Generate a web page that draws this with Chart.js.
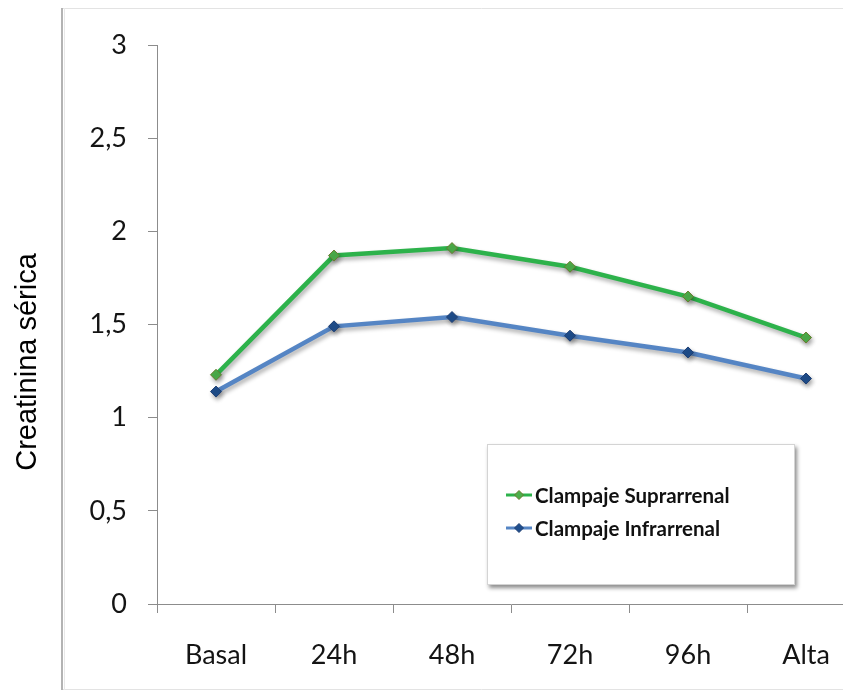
<!DOCTYPE html>
<html><head><meta charset="utf-8">
<script src="https://cdn.jsdelivr.net/npm/chart.js@4"></script>
<style>
html,body{margin:0;padding:0;background:#fff;overflow:hidden}
#wrap{position:relative;width:843px;height:691px;overflow:hidden}
canvas{position:absolute;left:0;top:0}
</style></head><body>
<div id="wrap"><canvas id="c" width="900" height="691"></canvas></div>
<script>
// Serum creatinine by time point, two clamping groups
const categories = ['Basal', '24h', '48h', '72h', '96h', 'Alta'];
const suprarrenal = [1.23, 1.87, 1.91, 1.81, 1.65, 1.43];
const infrarrenal = [1.14, 1.49, 1.54, 1.44, 1.35, 1.21];
const seriesNames = ['Clampaje Suprarrenal', 'Clampaje Infrarrenal'];
const yMin = 0, yMax = 3, yStep = 0.5;
const yTitle = 'Creatinina sérica';

const GREEN = '#2db24b', GREEN_PT = '#4cae4a', GREEN_PT_BORDER = '#6b7a2e';
const BLUE = '#5585c4', BLUE_PT = '#1f4e8c', BLUE_PT_BORDER = '#1f3f73';
const AXIS = '#8c8c8c';
const TEXT = '#141414';
const TICK_FONT = {family: 'Lato', size: 27};

// Outer chart frame (left, top and bottom edges visible)
const framePlugin = {
  id: 'frame',
  beforeDraw(chart) {
    const ctx = chart.ctx;
    ctx.save();
    ctx.fillStyle = '#ffffff';
    ctx.fillRect(0, 0, chart.width, chart.height);
    ctx.lineWidth = 1;
    ctx.strokeStyle = '#e3e3e3';
    ctx.beginPath();
    ctx.moveTo(63, 8.5); ctx.lineTo(chart.width, 8.5);
    ctx.moveTo(63, 689.5); ctx.lineTo(chart.width, 689.5);
    ctx.stroke();
    ctx.lineWidth = 2;
    ctx.strokeStyle = '#b3b3b3';
    ctx.beginPath();
    ctx.moveTo(62, 8); ctx.lineTo(62, 690);
    ctx.stroke();
    ctx.lineWidth = 1;
    ctx.strokeStyle = '#e8e8e8';
    ctx.beginPath();
    ctx.moveTo(64.5, 8); ctx.lineTo(64.5, 690);
    ctx.stroke();
    ctx.restore();
  }
};

// Soft drop shadow under the series lines
const shadowPlugin = {
  id: 'lineShadow',
  beforeDatasetsDraw(chart) {
    const ctx = chart.ctx;
    ctx.save();
    ctx.shadowColor = 'rgba(0,0,0,0.32)';
    ctx.shadowBlur = 4;
    ctx.shadowOffsetX = 1.5;
    ctx.shadowOffsetY = 3;
  },
  afterDatasetsDraw(chart) {
    chart.ctx.restore();
  }
};

// Rotated y-axis title, placed outside the frame
const yTitlePlugin = {
  id: 'yTitle',
  afterDraw(chart) {
    const ctx = chart.ctx;
    ctx.save();
    ctx.translate(28, 362);
    ctx.rotate(-Math.PI / 2);
    ctx.font = '29px "Liberation Sans", Arial, sans-serif';
    ctx.fillStyle = '#000000';
    ctx.textAlign = 'center';
    ctx.textBaseline = 'middle';
    ctx.fillText(yTitle, 0, 0);
    ctx.restore();
  }
};

// Boxed legend inside the plot area
const legendBoxPlugin = {
  id: 'legendBox',
  afterDraw(chart) {
    const ctx = chart.ctx;
    const x = 487, y = 444, w = 308, h = 141;
    ctx.save();
    ctx.shadowColor = 'rgba(0,0,0,0.45)';
    ctx.shadowBlur = 4;
    ctx.shadowOffsetX = 2;
    ctx.shadowOffsetY = 3;
    ctx.fillStyle = '#ffffff';
    ctx.fillRect(x, y, w, h);
    ctx.restore();
    ctx.save();
    ctx.strokeStyle = '#d4d4d4';
    ctx.lineWidth = 1;
    ctx.strokeRect(x + 0.5, y + 0.5, w - 1, h - 1);
    const rows = [495, 528];
    chart.data.datasets.forEach((ds, i) => {
      const ry = rows[i];
      ctx.strokeStyle = ds.borderColor;
      ctx.lineWidth = 3;
      ctx.beginPath();
      ctx.moveTo(506, ry); ctx.lineTo(532, ry);
      ctx.stroke();
      ctx.fillStyle = ds.pointBackgroundColor;
      ctx.strokeStyle = ds.pointBorderColor;
      ctx.lineWidth = 1;
      ctx.beginPath();
      ctx.moveTo(519, ry - 4.5); ctx.lineTo(523.5, ry);
      ctx.lineTo(519, ry + 4.5); ctx.lineTo(514.5, ry);
      ctx.closePath();
      ctx.fill(); ctx.stroke();
      ctx.fillStyle = '#111111';
      ctx.font = 'bold 20.5px Lato, sans-serif';
      ctx.textAlign = 'left';
      ctx.textBaseline = 'middle';
      ctx.fillText(ds.label, 535, ry + 1);
    });
    ctx.restore();
  }
};

new Chart(document.getElementById('c'), {
  type: 'line',
  data: {
    labels: categories,
    datasets: [
      {
        label: seriesNames[0],
        data: suprarrenal,
        borderColor: GREEN,
        borderWidth: 4.5,
        pointStyle: 'rectRot',
        pointRadius: 5.5,
        pointBackgroundColor: GREEN_PT,
        pointBorderColor: GREEN_PT_BORDER,
        pointBorderWidth: 1,
        tension: 0
      },
      {
        label: seriesNames[1],
        data: infrarrenal,
        borderColor: BLUE,
        borderWidth: 4.5,
        pointStyle: 'rectRot',
        pointRadius: 5.5,
        pointBackgroundColor: BLUE_PT,
        pointBorderColor: BLUE_PT_BORDER,
        pointBorderWidth: 1,
        tension: 0
      }
    ]
  },
  options: {
    responsive: false,
    animation: false,
    devicePixelRatio: 1,
    layout: {padding: {left: 0, top: 45, right: 35, bottom: 0}},
    plugins: {legend: {display: false}, tooltip: {enabled: false}},
    scales: {
      x: {
        type: 'category',
        offset: true,
        grid: {offset: true, drawOnChartArea: false, drawTicks: true, tickLength: 9, color: AXIS},
        border: {display: true, color: AXIS, width: 1},
        ticks: {color: TEXT, font: TICK_FONT, padding: 26, maxRotation: 0, autoSkip: false},
        afterFit(scale) { scale.height = 87; }
      },
      y: {
        min: yMin,
        max: yMax,
        grid: {drawOnChartArea: false, drawTicks: true, tickLength: 9, color: AXIS},
        border: {display: true, color: AXIS, width: 1},
        ticks: {
          stepSize: yStep,
          color: TEXT,
          font: TICK_FONT,
          padding: 21,
          callback: v => String(v).replace('.', ',')
        },
        afterFit(scale) { scale.width = 157; }
      }
    }
  },
  plugins: [framePlugin, shadowPlugin, yTitlePlugin, legendBoxPlugin]
});
</script>
</body></html>
